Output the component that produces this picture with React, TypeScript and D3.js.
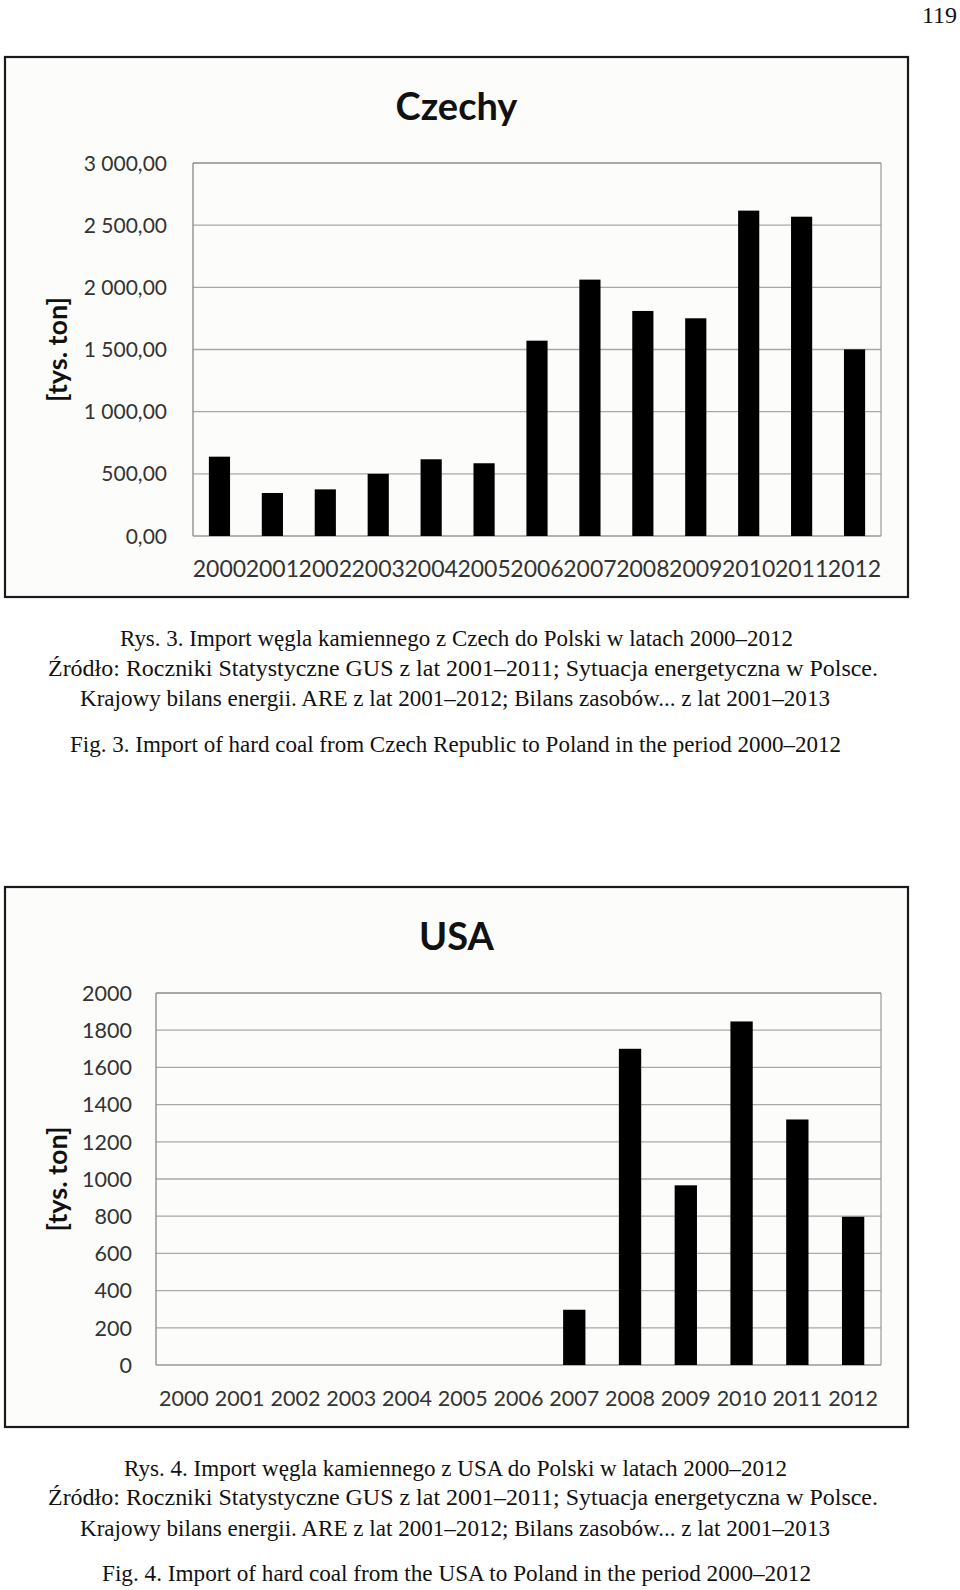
import React from "react";
import * as d3 from "d3";

// ---------- DATA ----------
const years = ["2000","2001","2002","2003","2004","2005","2006","2007","2008","2009","2010","2011","2012"];
const czechValues = [638, 346, 375, 500, 617, 585, 1571, 2062, 1810, 1751, 2617, 2568, 1501];
const usaValues = [0, 0, 0, 0, 0, 0, 0, 297, 1700, 966, 1847, 1320, 797];
const czechTicks = [0, 500, 1000, 1500, 2000, 2500, 3000];
const czechTickLabels = ["0,00", "500,00", "1 000,00", "1 500,00", "2 000,00", "2 500,00", "3 000,00"];
const usaTicks = [0, 200, 400, 600, 800, 1000, 1200, 1400, 1600, 1800, 2000];
const usaTickLabels = ["0", "200", "400", "600", "800", "1000", "1200", "1400", "1600", "1800", "2000"];
const yAxisTitle = "[tys. ton]";
const caption1 = [
  "Rys. 3. Import węgla kamiennego z Czech do Polski w latach 2000–2012",
  "Źródło: Roczniki Statystyczne GUS z lat 2001–2011; Sytuacja energetyczna w Polsce.",
  "Krajowy bilans energii. ARE z lat 2001–2012; Bilans zasobów... z lat 2001–2013",
  "Fig. 3. Import of hard coal from Czech Republic to Poland in the period 2000–2012",
];
const caption2 = [
  "Rys. 4. Import węgla kamiennego z USA do Polski w latach 2000–2012",
  "Źródło: Roczniki Statystyczne GUS z lat 2001–2011; Sytuacja energetyczna w Polsce.",
  "Krajowy bilans energii. ARE z lat 2001–2012; Bilans zasobów... z lat 2001–2013",
  "Fig. 4. Import of hard coal from the USA to Poland in the period 2000–2012",
];

const SANS = "Lato, 'Open Sans', sans-serif";
const SERIF = "'Liberation Serif', 'DejaVu Serif', serif";

type ChartProps = {
  title: string;
  values: number[];
  ticks: number[];
  tickLabels: string[];
  frame: { x: number; y: number; w: number; h: number };
  plot: { l: number; t: number; r: number; b: number };
  titleBaseline: number;
  tickLabelX: number;
  tickFont: number;
  xLabelBaseline: number;
  xLabelFont: number;
};

function BarChart(p: ChartProps) {
  const x = d3.scaleBand<string>().domain(years).range([p.plot.l, p.plot.r]).paddingInner(0.6).paddingOuter(0.3);
  const y = d3.scaleLinear().domain([0, p.ticks[p.ticks.length - 1]]).range([p.plot.b, p.plot.t]);
  const cx = p.frame.x + p.frame.w / 2;
  return (
    <g>
      <rect x={p.frame.x} y={p.frame.y} width={p.frame.w} height={p.frame.h} fill="#fcfcfa" stroke="#1a1a1a" strokeWidth={2.2} />
      <text x={cx} y={p.titleBaseline} textAnchor="middle" fontFamily={SANS} fontWeight="bold" fontSize={38} fill="#111">{p.title}</text>
      {p.ticks.map((t, i) => (
        i > 0 && i < p.ticks.length - 1 ? (
          <line key={"g" + i} x1={p.plot.l} x2={p.plot.r} y1={y(t)} y2={y(t)} stroke="#a8a8a8" strokeWidth={1.3} />
        ) : null
      ))}
      <line x1={p.plot.l} x2={p.plot.r} y1={p.plot.t} y2={p.plot.t} stroke="#555" strokeWidth={1.2} />
      <line x1={p.plot.r} x2={p.plot.r} y1={p.plot.t} y2={p.plot.b} stroke="#999" strokeWidth={1.2} />
      <line x1={p.plot.l} x2={p.plot.l} y1={p.plot.t} y2={p.plot.b} stroke="#888" strokeWidth={1.3} />
      <line x1={p.plot.l} x2={p.plot.r} y1={p.plot.b} y2={p.plot.b} stroke="#999" strokeWidth={1.3} />
      {years.map((yr, i) => (
        p.values[i] > 0 ? (
          <rect key={yr} x={x(yr)!} y={y(p.values[i])} width={x.bandwidth()} height={y(0) - y(p.values[i])} fill="#000" />
        ) : null
      ))}
      {p.ticks.map((t, i) => (
        <text key={"t" + i} x={p.tickLabelX} y={y(t) + p.tickFont * 0.36} textAnchor="end" fontFamily={SANS} fontSize={p.tickFont} fill="#333">{p.tickLabels[i]}</text>
      ))}
      {years.map((yr) => (
        <text key={"x" + yr} x={x(yr)! + x.bandwidth() / 2} y={p.xLabelBaseline} textAnchor="middle" fontFamily={SANS} fontSize={p.xLabelFont} fill="#333">{yr}</text>
      ))}
      <text transform={`translate(${p.frame.x + 62},${(p.plot.t + p.plot.b) / 2}) rotate(-90)`} textAnchor="middle" fontFamily={SANS} fontWeight="bold" fontSize={27} fill="#111">{yAxisTitle}</text>
    </g>
  );
}

function Caption({ lines, baselines, starts, widths }: { lines: string[]; baselines: number[]; starts: number[]; widths: number[] }) {
  return (
    <g>
      {lines.map((l, i) => (
        <text key={i} x={starts[i]} y={baselines[i]} fontFamily={SERIF} fontSize={23.5} fill="#111" textLength={widths[i]} lengthAdjust="spacingAndGlyphs">{l}</text>
      ))}
    </g>
  );
}

export default function App() {
  return (
    <svg width={960} height={1590} style={{ position: "absolute", left: 0, top: 0, background: "#fff" }}>
      <rect x={0} y={0} width={960} height={1590} fill="#fff" />
      <text x={957} y={23} textAnchor="end" fontFamily={SERIF} fontSize={24} fill="#111">119</text>
      <BarChart
        title="Czechy"
        values={czechValues}
        ticks={czechTicks}
        tickLabels={czechTickLabels}
        frame={{ x: 5, y: 57, w: 903, h: 540 }}
        plot={{ l: 193, t: 163, r: 881, b: 536 }}
        titleBaseline={120}
        tickLabelX={167}
        tickFont={21}
        xLabelBaseline={577}
        xLabelFont={23}
      />
      <Caption
        lines={caption1}
        baselines={[646, 675.5, 705.5, 751.5]}
        starts={[120, 48, 80, 70]}
        widths={[673, 830, 750, 771]}
      />
      <BarChart
        title="USA"
        values={usaValues}
        ticks={usaTicks}
        tickLabels={usaTickLabels}
        frame={{ x: 5, y: 887, w: 903, h: 540 }}
        plot={{ l: 156, t: 993, r: 881, b: 1365 }}
        titleBaseline={950}
        tickLabelX={132}
        tickFont={21.5}
        xLabelBaseline={1406}
        xLabelFont={21.5}
      />
      <Caption
        lines={caption2}
        baselines={[1475.5, 1504.5, 1535.5, 1580.5]}
        starts={[124, 48, 80, 102]}
        widths={[663, 830, 750, 709]}
      />
    </svg>
  );
}
